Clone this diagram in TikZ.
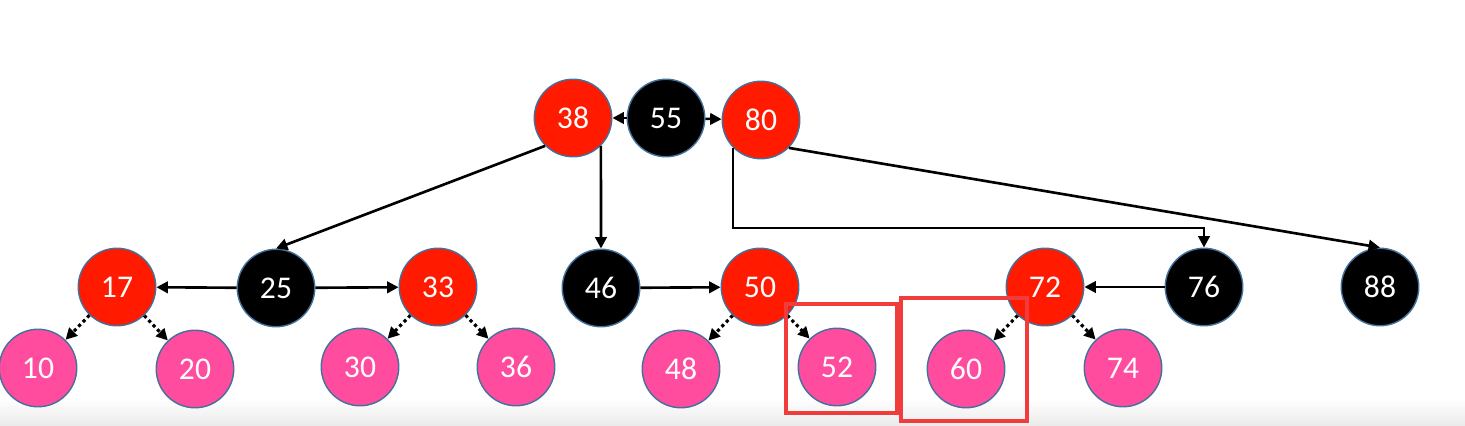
\documentclass[tikz,border=0pt]{standalone}
\usepackage{fontspec}
\setmainfont{Carlito}
\usetikzlibrary{positioning, arrows.meta, calc}

\definecolor{rbred}{RGB}{255,26,0}
\definecolor{rbpink}{RGB}{255,76,158}
\definecolor{rbedge}{RGB}{65,113,156}
\definecolor{markred}{RGB}{240,60,60}

\begin{document}
\begin{tikzpicture}[
    x=0.02cm, y=-0.02cm,
    key/.style={circle, draw=rbedge, line width=0.8pt, minimum size=1.55cm, inner sep=0pt,
                text=white, font=\fontsize{18}{18}\selectfont},
    rednode/.style={key, fill=rbred},
    blacknode/.style={key, fill=black},
    leaf/.style={key, fill=rbpink},
    arrow/.style={-{Triangle[length=6.5pt, width=6.5pt]}, line width=1.5pt},
    dotarrow/.style={-{Triangle[length=6.5pt, width=6.5pt]}, line width=1.8pt,
                     dash pattern=on 1.8pt off 1.8pt},
    markbox/.style={rectangle, draw=markred, line width=1.8pt, inner sep=0pt}
]

\useasboundingbox (0,0) rectangle (1465,426);
\shade[top color=white, bottom color=black!8] (0,398) rectangle (1465,426);

% Root level
\node[rednode] (38) at (573,118) {38};
\node[blacknode] (55) at (666,118) {55};
\node[rednode] (80) at (761,120) {80};

% Middle level
\node[rednode] (17) at (117,287) {17};
\node[blacknode] (25) at (276,288) {25};
\node[rednode] (33) at (438,287) {33};
\node[blacknode] (46) at (601,288) {46};
\node[rednode] (50) at (760,287) {50};
\node[rednode] (72) at (1045,287) {72};
\node[blacknode] (76) at (1204,287) {76};
\node[blacknode] (88) at (1380,287) {88};

% Leaves
\node[leaf] (10) at (38,368) {10};
\node[leaf] (20) at (195,369) {20};
\node[leaf] (30) at (360,367) {30};
\node[leaf] (36) at (516,367) {36};
\node[leaf] (48) at (681,369) {48};
\node[leaf] (52) at (837,367) {52};
\node[leaf] (60) at (966,369) {60};
\node[leaf] (74) at (1123,368) {74};

\coordinate (elbow) at (1204,228);

% Solid edges
\draw[arrow] (55) -- (38);
\draw[arrow] (55) -- (80);
\draw[arrow] (38.south west) -- (25.north);
\draw[arrow] (38.south east) -- (46.north);
\draw[arrow] (80.south west) |- (elbow) -- (76.north);
\draw[arrow] (80.south east) -- (88.north);
\draw[arrow] (25) -- (17);
\draw[arrow] (25) -- (33);
\draw[arrow] (46) -- (50);
\draw[arrow] (76) -- (72);

% Dotted edges
\draw[dotarrow] (17) -- (10);
\draw[dotarrow] (17) -- (20);
\draw[dotarrow] (33) -- (30);
\draw[dotarrow] (33) -- (36);
\draw[dotarrow] (50) -- (48);
\draw[dotarrow] (50) -- (52);
\draw[dotarrow] (72) -- (60);
\draw[dotarrow] (72) -- (74);

% Highlight boxes
\node[markbox, minimum width=2.22cm, minimum height=2.18cm] (box52) at (841.5,358.5) {};
\node[markbox, minimum width=2.52cm, minimum height=2.46cm] (box60) at (964,359.5) {};

\end{tikzpicture}
\end{document}
